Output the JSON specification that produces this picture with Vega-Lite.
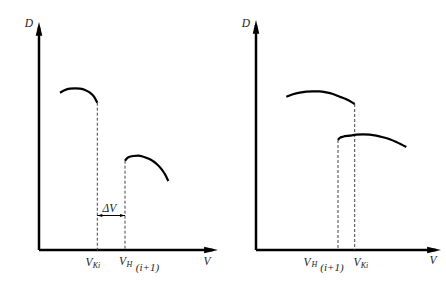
{
  "$schema": "https://vega.github.io/schema/vega-lite/v6.json",
  "padding": 0,
  "spacing": 0,
  "config": {"view": {"stroke": null}},
  "background": "white",
  "datasets": {
    "curves": [
      {"p": 1, "seg": "a", "x": 2.1, "y": 15.73},
      {"p": 1, "seg": "a", "x": 2.6, "y": 16.0},
      {"p": 1, "seg": "a", "x": 3.1, "y": 16.13},
      {"p": 1, "seg": "a", "x": 3.6, "y": 16.17},
      {"p": 1, "seg": "a", "x": 4.1, "y": 16.13},
      {"p": 1, "seg": "a", "x": 4.6, "y": 16.0},
      {"p": 1, "seg": "a", "x": 5.1, "y": 15.73},
      {"p": 1, "seg": "a", "x": 5.5, "y": 15.33},
      {"p": 1, "seg": "a", "x": 5.83, "y": 14.73},
      {"p": 1, "seg": "b", "x": 8.6, "y": 8.93},
      {"p": 1, "seg": "b", "x": 8.93, "y": 9.27},
      {"p": 1, "seg": "b", "x": 9.43, "y": 9.4},
      {"p": 1, "seg": "b", "x": 9.93, "y": 9.43},
      {"p": 1, "seg": "b", "x": 10.43, "y": 9.33},
      {"p": 1, "seg": "b", "x": 11.1, "y": 9.07},
      {"p": 1, "seg": "b", "x": 11.77, "y": 8.6},
      {"p": 1, "seg": "b", "x": 12.27, "y": 8.07},
      {"p": 1, "seg": "b", "x": 12.6, "y": 7.57},
      {"p": 1, "seg": "b", "x": 12.93, "y": 6.9},
      {"p": 2, "seg": "a", "x": 3.03, "y": 15.33},
      {"p": 2, "seg": "a", "x": 3.7, "y": 15.57},
      {"p": 2, "seg": "a", "x": 4.37, "y": 15.73},
      {"p": 2, "seg": "a", "x": 5.03, "y": 15.83},
      {"p": 2, "seg": "a", "x": 5.7, "y": 15.87},
      {"p": 2, "seg": "a", "x": 6.37, "y": 15.87},
      {"p": 2, "seg": "a", "x": 7.03, "y": 15.77},
      {"p": 2, "seg": "a", "x": 7.7, "y": 15.6},
      {"p": 2, "seg": "a", "x": 8.37, "y": 15.33},
      {"p": 2, "seg": "a", "x": 9.03, "y": 15.07},
      {"p": 2, "seg": "a", "x": 9.87, "y": 14.6},
      {"p": 2, "seg": "b", "x": 8.2, "y": 11.0},
      {"p": 2, "seg": "b", "x": 8.37, "y": 11.2},
      {"p": 2, "seg": "b", "x": 8.7, "y": 11.33},
      {"p": 2, "seg": "b", "x": 9.37, "y": 11.43},
      {"p": 2, "seg": "b", "x": 10.03, "y": 11.53},
      {"p": 2, "seg": "b", "x": 10.7, "y": 11.57},
      {"p": 2, "seg": "b", "x": 11.37, "y": 11.53},
      {"p": 2, "seg": "b", "x": 12.03, "y": 11.43},
      {"p": 2, "seg": "b", "x": 12.7, "y": 11.27},
      {"p": 2, "seg": "b", "x": 13.37, "y": 11.07},
      {"p": 2, "seg": "b", "x": 14.03, "y": 10.8},
      {"p": 2, "seg": "b", "x": 15.03, "y": 10.3}
    ],
    "drops": [
      {"p": 1, "x": 5.83, "y": 14.73},
      {"p": 1, "x": 8.6, "y": 8.93},
      {"p": 2, "x": 9.87, "y": 14.6},
      {"p": 2, "x": 8.2, "y": 11.0}
    ],
    "axes": [
      {"p": 1, "x": 0, "x2": 0, "y": 0, "y2": 22.3},
      {"p": 1, "x": 0, "x2": 17.4, "y": 0, "y2": 0},
      {"p": 2, "x": 0, "x2": 0, "y": 0, "y2": 22.5},
      {"p": 2, "x": 0, "x2": 18.0, "y": 0, "y2": 0}
    ],
    "upheads": [
      {"p": 1, "x": 0, "y": 22.8},
      {"p": 2, "x": 0, "y": 23.0}
    ],
    "rightheads": [
      {"p": 1, "x": 17.9, "y": 0},
      {"p": 2, "x": 18.5, "y": 0}
    ],
    "dv": [
      {"p": 1, "x": 5.83, "x2": 8.6, "y": 3.45}
    ],
    "dvleft": [{"p": 1, "x": 5.83, "y": 3.45}],
    "dvright": [{"p": 1, "x": 8.6, "y": 3.45}],
    "mainlabels": [
      {"p": 1, "t": "D", "x": -1.0, "y": 22.6},
      {"p": 1, "t": "V", "x": 16.8, "y": -1.2},
      {"p": 1, "t": "V", "x": 5.0, "y": -1.3},
      {"p": 1, "t": "V", "x": 8.35, "y": -1.2},
      {"p": 1, "t": "ΔV", "x": 7.05, "y": 4.15},
      {"p": 2, "t": "D", "x": -1.0, "y": 22.6},
      {"p": 2, "t": "V", "x": 17.7, "y": -1.1},
      {"p": 2, "t": "V", "x": 5.1, "y": -1.25},
      {"p": 2, "t": "V", "x": 10.1, "y": -1.25}
    ],
    "sublabels": [
      {"p": 1, "t": "Ki", "x": 5.75, "y": -1.6},
      {"p": 1, "t": "H", "x": 9.05, "y": -1.5},
      {"p": 2, "t": "H", "x": 5.85, "y": -1.5},
      {"p": 2, "t": "Ki", "x": 10.85, "y": -1.55}
    ],
    "parens": [
      {"p": 1, "t": "(i+1)", "x": 10.85, "y": -1.75},
      {"p": 2, "t": "(i+1)", "x": 7.6, "y": -1.75}
    ]
  },
  "hconcat": [
    {
      "width": 223,
      "height": 285,
      "encoding": {
        "x": {"field": "x", "type": "quantitative", "scale": {"domain": [-3.9, 18.4], "nice": false, "zero": false}, "axis": null},
        "y": {"field": "y", "type": "quantitative", "scale": {"domain": [-3.5, 25], "nice": false, "zero": false}, "axis": null}
      },
      "layer": [
        {"data": {"name": "axes"}, "transform": [{"filter": "datum.p == 1"}], "mark": {"type": "rule", "color": "black", "strokeWidth": 2.5}, "encoding": {"x2": {"field": "x2"}, "y2": {"field": "y2"}}},
        {"data": {"name": "upheads"}, "transform": [{"filter": "datum.p == 1"}], "mark": {"type": "point", "shape": "M0,0L0.38,1.6L-0.38,1.6Z", "filled": true, "color": "black", "opacity": 1, "size": 300, "strokeWidth": 0}, "encoding": {}},
        {"data": {"name": "rightheads"}, "transform": [{"filter": "datum.p == 1"}], "mark": {"type": "point", "shape": "M0,0L-1.6,-0.38L-1.6,0.38Z", "filled": true, "color": "black", "opacity": 1, "size": 300, "strokeWidth": 0}, "encoding": {}},
        {"data": {"name": "drops"}, "transform": [{"filter": "datum.p == 1"}], "mark": {"type": "rule", "color": "#444444", "strokeWidth": 1, "strokeDash": [3, 2]}, "encoding": {"y2": {"datum": 0}}},
        {"data": {"name": "curves"}, "transform": [{"filter": "datum.p == 1"}], "mark": {"type": "line", "color": "black", "strokeWidth": 2.2, "interpolate": "monotone"}, "encoding": {"detail": {"field": "seg"}}},
        {"data": {"name": "dv"}, "mark": {"type": "rule", "color": "black", "strokeWidth": 1}, "encoding": {"x2": {"field": "x2"}}},
        {"data": {"name": "dvleft"}, "mark": {"type": "point", "shape": "M0,0L1.6,-0.45L1.6,0.45Z", "filled": true, "color": "black", "opacity": 1, "size": 40, "strokeWidth": 0}, "encoding": {}},
        {"data": {"name": "dvright"}, "mark": {"type": "point", "shape": "M0,0L-1.6,-0.45L-1.6,0.45Z", "filled": true, "color": "black", "opacity": 1, "size": 40, "strokeWidth": 0}, "encoding": {}},
        {"data": {"name": "mainlabels"}, "transform": [{"filter": "datum.p == 1"}], "mark": {"type": "text", "font": "Liberation Serif", "fontStyle": "italic", "fontSize": 11.5, "color": "#222222", "align": "center", "baseline": "middle"}, "encoding": {"text": {"field": "t"}}},
        {"data": {"name": "sublabels"}, "transform": [{"filter": "datum.p == 1"}], "mark": {"type": "text", "font": "Liberation Serif", "fontStyle": "italic", "fontSize": 8, "color": "#222222", "align": "center", "baseline": "middle"}, "encoding": {"text": {"field": "t"}}},
        {"data": {"name": "parens"}, "transform": [{"filter": "datum.p == 1"}], "mark": {"type": "text", "font": "Liberation Serif", "fontStyle": "italic", "fontSize": 11, "color": "#222222", "align": "center", "baseline": "middle"}, "encoding": {"text": {"field": "t"}}}
      ]
    },
    {
      "width": 223,
      "height": 285,
      "encoding": {
        "x": {"field": "x", "type": "quantitative", "scale": {"domain": [-3.3, 19.0], "nice": false, "zero": false}, "axis": null},
        "y": {"field": "y", "type": "quantitative", "scale": {"domain": [-3.5, 25], "nice": false, "zero": false}, "axis": null}
      },
      "layer": [
        {"data": {"name": "axes"}, "transform": [{"filter": "datum.p == 2"}], "mark": {"type": "rule", "color": "black", "strokeWidth": 2.5}, "encoding": {"x2": {"field": "x2"}, "y2": {"field": "y2"}}},
        {"data": {"name": "upheads"}, "transform": [{"filter": "datum.p == 2"}], "mark": {"type": "point", "shape": "M0,0L0.38,1.6L-0.38,1.6Z", "filled": true, "color": "black", "opacity": 1, "size": 300, "strokeWidth": 0}, "encoding": {}},
        {"data": {"name": "rightheads"}, "transform": [{"filter": "datum.p == 2"}], "mark": {"type": "point", "shape": "M0,0L-1.6,-0.38L-1.6,0.38Z", "filled": true, "color": "black", "opacity": 1, "size": 300, "strokeWidth": 0}, "encoding": {}},
        {"data": {"name": "drops"}, "transform": [{"filter": "datum.p == 2"}], "mark": {"type": "rule", "color": "#444444", "strokeWidth": 1, "strokeDash": [3, 2]}, "encoding": {"y2": {"datum": 0}}},
        {"data": {"name": "curves"}, "transform": [{"filter": "datum.p == 2"}], "mark": {"type": "line", "color": "black", "strokeWidth": 2.2, "interpolate": "monotone"}, "encoding": {"detail": {"field": "seg"}}},
        {"data": {"name": "mainlabels"}, "transform": [{"filter": "datum.p == 2"}], "mark": {"type": "text", "font": "Liberation Serif", "fontStyle": "italic", "fontSize": 11.5, "color": "#222222", "align": "center", "baseline": "middle"}, "encoding": {"text": {"field": "t"}}},
        {"data": {"name": "sublabels"}, "transform": [{"filter": "datum.p == 2"}], "mark": {"type": "text", "font": "Liberation Serif", "fontStyle": "italic", "fontSize": 8, "color": "#222222", "align": "center", "baseline": "middle"}, "encoding": {"text": {"field": "t"}}},
        {"data": {"name": "parens"}, "transform": [{"filter": "datum.p == 2"}], "mark": {"type": "text", "font": "Liberation Serif", "fontStyle": "italic", "fontSize": 11, "color": "#222222", "align": "center", "baseline": "middle"}, "encoding": {"text": {"field": "t"}}}
      ]
    }
  ]
}
